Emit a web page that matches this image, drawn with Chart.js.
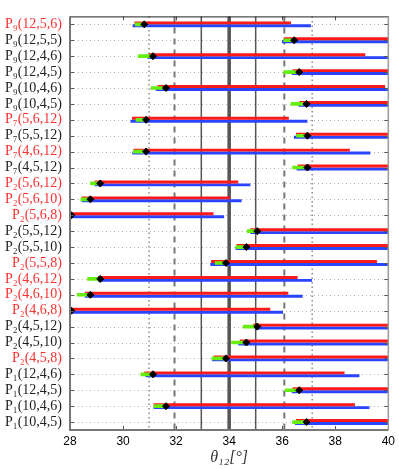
<!DOCTYPE html>
<html>
<head>
<meta charset="utf-8">
<script src="https://cdn.jsdelivr.net/npm/chart.js@4"></script>
<style>
  html, body { margin: 0; padding: 0; background: #fff; }
  #wrap { width: 399px; height: 469px; }
</style>
</head>
<body>
<div id="wrap"><canvas id="theta"></canvas></div>
<script>
const labels = [
  "P₉(12,5,6)", "P₉(12,5,5)", "P₉(12,4,6)", "P₉(12,4,5)", "P₉(10,4,6)", "P₉(10,4,5)",
  "P₇(5,6,12)", "P₇(5,5,12)", "P₇(4,6,12)", "P₇(4,5,12)",
  "P₂(5,6,12)", "P₂(5,6,10)", "P₂(5,6,8)", "P₂(5,5,12)", "P₂(5,5,10)", "P₂(5,5,8)",
  "P₂(4,6,12)", "P₂(4,6,10)", "P₂(4,6,8)", "P₂(4,5,12)", "P₂(4,5,10)", "P₂(4,5,8)",
  "P₁(12,4,6)", "P₁(12,4,5)", "P₁(10,4,6)", "P₁(10,4,5)"
];
// rows whose label is drawn in red
const highlighted = [1,0,0,0,0,0, 1,0,1,0, 1,1,1,0,0,1, 1,1,1,0,0,1, 0,0,0,0];

const redStart  = [30.43, 36.06, 30.96, 36.39, 31.30, 36.64, 30.34, 36.52, 30.39, 36.58, 28.93, 28.44, 28.04, 34.80, 34.28, 33.32, 29.06, 28.56, 28.04, 34.90, 34.40, 33.41, 30.80, 36.39, 31.15, 36.52];
const redEnd    = [36.33, 40.00, 39.13, 40.00, 39.88, 40.00, 36.25, 40.00, 38.55, 40.00, 34.34, 34.03, 33.41, 40.00, 40.00, 39.57, 36.58, 36.23, 35.55, 40.00, 40.00, 40.00, 38.35, 40.00, 38.74, 40.00];
const blueStart = [30.36, 35.99, 30.92, 36.36, 31.23, 36.61, 30.28, 36.44, 30.35, 36.54, 28.93, 28.44, 28.04, 34.80, 34.24, 33.29, 29.06, 28.56, 28.04, 34.96, 34.34, 33.35, 30.84, 36.36, 31.15, 36.48];
const blueEnd   = [37.08, 40.00, 40.00, 40.00, 40.00, 40.00, 36.95, 40.00, 39.32, 40.00, 34.80, 34.47, 33.81, 40.00, 40.00, 40.00, 37.12, 36.77, 36.03, 40.00, 40.00, 40.00, 38.91, 40.00, 39.29, 40.00];
const greenStart = [30.46, 36.06, 30.57, 36.06, 31.06, 36.33, 30.49, 36.54, 30.39, 36.39, 28.77, 28.41, null, 34.68, 34.25, 33.47, 28.66, 28.27, null, 34.53, 34.09, 33.35, 30.67, 36.11, 31.17, 36.39];
const greenEnd   = [30.80, 36.40, 31.05, 36.52, 31.48, 36.77, 30.84, 36.89, 30.80, 36.83, 29.06, 28.75, null, 34.96, 34.59, 33.85, 29.06, 28.68, null, 34.96, 34.53, 33.85, 31.05, 36.52, 31.54, 36.83];
const bestFit = [30.80, 36.45, 31.13, 36.64, 31.62, 36.92, 30.87, 36.95, 30.87, 36.95, 29.14, 28.77, 28.05, 35.06, 34.65, 33.88, 29.14, 28.77, 28.05, 35.06, 34.65, 33.88, 31.13, 36.64, 31.62, 36.92];

const xTicks = [28, 30, 32, 34, 36, 38, 40];
const refValues = [30.98, 31.94, 32.95, 34.0, 35.0, 36.08, 37.13];
const refStyles = ["dot", "dash", "solid", "thick", "solid", "dash", "dot"];

const pairs = (a, b) => a.map((v, i) => (v === null ? null : [v, b[i]]));

const refLines = {
  id: "refLines",
  beforeDatasetsDraw(chart) {
    const { ctx, chartArea: area, scales } = chart;
    ctx.save();
    // dotted row guides
    ctx.strokeStyle = "#b5b5b5";
    ctx.lineWidth = 1;
    ctx.setLineDash([1, 3]);
    labels.forEach((l, i) => {
      const y = Math.round(scales.y.getPixelForValue(i)) + 0.5;
      ctx.beginPath();
      ctx.moveTo(area.left, y);
      ctx.lineTo(area.right, y);
      ctx.stroke();
    });
    refValues.forEach((v, i) => {
      const x = scales.x.getPixelForValue(v);
      const s = refStyles[i];
      if (s === "dot") { ctx.strokeStyle = "#8a8a8a"; ctx.lineWidth = 1.5; ctx.setLineDash([1.5, 3]); }
      if (s === "dash") { ctx.strokeStyle = "#777"; ctx.lineWidth = 2; ctx.setLineDash([6, 5]); }
      if (s === "solid") { ctx.strokeStyle = "#555"; ctx.lineWidth = 1.5; ctx.setLineDash([]); }
      if (s === "thick") { ctx.strokeStyle = "#555"; ctx.lineWidth = 3.5; ctx.setLineDash([]); }
      ctx.beginPath();
      ctx.moveTo(x, area.top);
      ctx.lineTo(x, area.bottom);
      ctx.stroke();
    });
    ctx.restore();
  },
  afterDatasetsDraw(chart) {
    const { ctx, chartArea: area, scales } = chart;
    ctx.save();
    ctx.setLineDash([]);
    // inward ticks
    ctx.strokeStyle = "#555";
    ctx.lineWidth = 1;
    xTicks.forEach(v => {
      const x = Math.round(scales.x.getPixelForValue(v)) + 0.5;
      ctx.beginPath();
      ctx.moveTo(x, area.top); ctx.lineTo(x, area.top + 4);
      ctx.moveTo(x, area.bottom); ctx.lineTo(x, area.bottom - 4);
      ctx.stroke();
    });
    labels.forEach((l, i) => {
      const y = Math.round(scales.y.getPixelForValue(i)) + 0.5;
      ctx.beginPath();
      ctx.moveTo(area.left, y); ctx.lineTo(area.left + 4, y);
      ctx.moveTo(area.right, y); ctx.lineTo(area.right - 4, y);
      ctx.stroke();
    });
    // frame
    ctx.strokeStyle = "#222";
    ctx.lineWidth = 1;
    ctx.beginPath();
    ctx.moveTo(area.left, area.top + 0.5); ctx.lineTo(area.right, area.top + 0.5);
    ctx.stroke();
    ctx.strokeStyle = "#999";
    ctx.lineWidth = 1.5;
    ctx.beginPath();
    ctx.moveTo(area.right, area.top); ctx.lineTo(area.right, area.bottom);
    ctx.stroke();
    ctx.strokeStyle = "#777";
    ctx.lineWidth = 2;
    ctx.beginPath();
    ctx.moveTo(area.left, area.top); ctx.lineTo(area.left, area.bottom); ctx.lineTo(area.right, area.bottom);
    ctx.stroke();
    ctx.restore();
  }
};

window.onload = () => {
  new Chart(document.getElementById("theta").getContext("2d"), {
    type: "bar",
    data: {
      labels: labels,
      datasets: [
        {
          label: "red",
          data: pairs(redStart, redEnd),
          backgroundColor: "#ff1a1a",
          borderWidth: 0,
          barPercentage: 1,
          categoryPercentage: 0.37,
          order: 2
        },
        {
          label: "blue",
          data: pairs(blueStart, blueEnd),
          backgroundColor: "#2a45ff",
          borderWidth: 0,
          barPercentage: 1,
          categoryPercentage: 0.37,
          order: 2
        },
        {
          label: "green",
          data: pairs(greenStart, greenEnd),
          backgroundColor: "#66ee11",
          borderWidth: 0,
          grouped: false,
          barThickness: 3,
          order: 1
        },
        {
          type: "line",
          label: "best fit",
          indexAxis: "y",
          data: bestFit.map((v, i) => ({ x: v, y: labels[i] })),
          showLine: false,
          pointStyle: "rectRot",
          pointRadius: 3.5,
          pointBackgroundColor: "#000",
          pointBorderColor: "#000",
          pointBorderWidth: 1,
          order: 0
        }
      ]
    },
    options: {
      indexAxis: "y",
      responsive: true,
      maintainAspectRatio: false,
      animation: false,
      layout: { padding: { top: 9, right: 7, left: 0, bottom: 0 } },
      plugins: { legend: { display: false }, tooltip: { enabled: false } },
      scales: {
        x: {
          type: "linear",
          min: 28,
          max: 40,
          grid: { display: false, drawTicks: false },
          border: { display: false },
          ticks: {
            stepSize: 2,
            padding: 4,
            color: "#000",
            font: { family: "Liberation Sans, Arial, sans-serif", size: 12 }
          },
          title: {
            display: true,
            text: "θ₁₂[°]",
            color: "#333",
            font: { family: "Liberation Serif, DejaVu Serif, serif", size: 16, style: "italic" },
            padding: { top: 0, bottom: 2 }
          },
          afterFit: (scale) => { scale.height = 39; }
        },
        y: {
          type: "category",
          offset: true,
          grid: { display: false, drawTicks: false },
          border: { display: false },
          ticks: {
            autoSkip: false,
            padding: 8,
            color: (c) => (highlighted[c.index] ? "#ff3030" : "#222"),
            font: { family: "Liberation Serif, DejaVu Serif, serif", size: 14 }
          },
          afterFit: (scale) => { scale.width = 70; }
        }
      }
    },
    plugins: [refLines]
  });
};
</script>
</body>
</html>
